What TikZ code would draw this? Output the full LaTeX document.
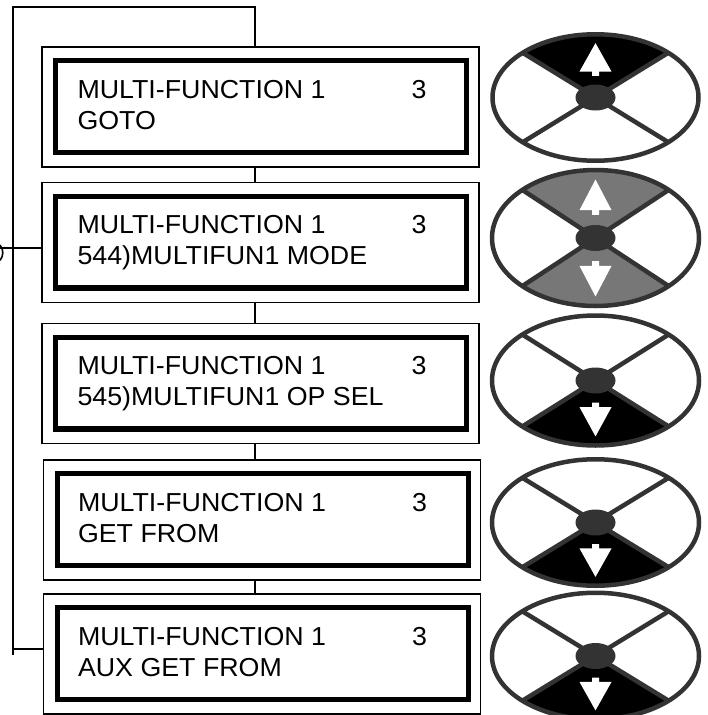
\documentclass[tikz,border=0pt]{standalone}
\usepackage{fontspec}
\setmainfont{Liberation Sans}[FakeStretch=1.03]
\usepackage{tikz}

\definecolor{keydark}{HTML}{333333}
\definecolor{keygray}{HTML}{777777}

\tikzset{
    panel/.style={draw, line width=1.3pt, minimum width=437pt, minimum height=120pt, inner sep=0pt},
    lcd/.style={draw, line width=5pt, minimum width=411pt, minimum height=92pt, inner sep=0pt},
    lcdtext/.style={anchor=base west, inner sep=0pt, font=\fontsize{26}{31}\selectfont},
    wire/.style={line width=1.3pt},
    keyline/.style={draw=keydark, line width=4.5pt}
}

% two display lines, the first one is the same everywhere
\newcommand{\lcdlines}[1]{\vtop{\hbox{\makebox[334pt][l]{MULTI-FUNCTION 1}3}\hbox{#1}}}

% keypad: center, x radius, y radius, top fill, bottom fill
\newcommand{\keypad}[5]{%
  \begin{scope}[shift={#1}]
    \begin{scope}[xscale=#2/#3]
      \fill[#4] (0,0) -- (45:#3) arc[start angle=45, end angle=135, radius=#3] -- cycle;
      \fill[#5] (0,0) -- (-45:#3) arc[start angle=-45, end angle=-135, radius=#3] -- cycle;
      \draw[keyline] (45:#3) -- (225:#3) (135:#3) -- (-45:#3);
      \draw[keyline] (0,0) circle[radius=#3];
    \end{scope}
    \fill[keydark] (0,0) ellipse[x radius=20, y radius=13];
  \end{scope}}
\newcommand{\keyup}[2]{%
  \fill[white, shift={#1}] (0,0.86*#2) -- (16,0.41*#2) -- (3.5,0.41*#2) -- (3.5,0.34*#2)
    -- (-3.5,0.34*#2) -- (-3.5,0.41*#2) -- (-16,0.41*#2) -- cycle;}
\newcommand{\keydown}[2]{%
  \fill[white, shift={#1}] (0,-0.86*#2) -- (16,-0.41*#2) -- (3.5,-0.41*#2) -- (3.5,-0.34*#2)
    -- (-3.5,-0.34*#2) -- (-3.5,-0.41*#2) -- (-16,-0.41*#2) -- cycle;}

\begin{document}
\begin{tikzpicture}[x=1pt, y=1pt]
\useasboundingbox (0,0) rectangle (708,-715);

% menu panels
\node[panel] (b1) at (260.5,-107) {};
\node[panel] (b2) at (260.5,-242.5) {};
\node[panel] (b3) at (260.5,-383.5) {};
\node[panel] (b4) at (262,-520) {};
\node[panel] (b5) at (262,-654) {};

\foreach \i in {1,...,5} {
  \node[lcd] (l\i) at ([xshift=0.5pt, yshift=0.5pt]b\i.center) {};
  \fill (l\i.south west) rectangle ([yshift=5.5pt]l\i.south east);
}

\node[lcdtext] (t1) at ([xshift=36pt, yshift=9pt]b1.west) {\lcdlines{GOTO}};
\node[lcdtext] (t2) at ([xshift=36pt, yshift=9pt]b2.west) {\lcdlines{544)MULTIFUN1 MODE}};
\node[lcdtext] (t3) at ([xshift=36pt, yshift=9pt]b3.west) {\lcdlines{545)MULTIFUN1 OP SEL}};
\node[lcdtext] (t4) at ([xshift=35pt, yshift=9pt]b4.west) {\lcdlines{GET FROM}};
\node[lcdtext] (t5) at ([xshift=35pt, yshift=9pt]b5.west) {\lcdlines{AUX GET FROM}};

% connectors
\coordinate (spine) at (255,0);
\coordinate (loopTop) at (255,-7);
\coordinate (loopCorner) at (13,-7);
\coordinate (loopEnd) at (13,-655);
\coordinate (tap2) at ([yshift=-5.5pt]b2.west);
\coordinate (tap5) at ([yshift=5pt]b5.west);

\draw[wire] (b1.north -| spine) -- (loopTop) -- (loopCorner) -- (loopEnd);
\foreach \a/\b in {b1/b2, b2/b3, b3/b4, b4/b5}
  \draw[wire] (\a.south -| spine) -- (\b.north -| spine);
\draw[wire] (tap2) -- (tap2 -| loopCorner) -- ++(-13,0);
\draw[wire] (tap5) -- (tap5 -| loopCorner);
\draw[line width=1.6pt] (0,-245) arc[start angle=40, end angle=-40, radius=12];

% keypads
\keypad{(595.5,-97.5)}{103}{63.25}{black}{white}
\keyup{(595.5,-97.5)}{63.25}
\keypad{(595.5,-238)}{103.5}{68}{keygray}{keygray}
\keyup{(595.5,-238)}{68}
\keydown{(595.5,-238)}{68}
\keypad{(595.5,-380.5)}{103.5}{65}{white}{black}
\keydown{(595.5,-380.5)}{65}
\keypad{(595.5,-522.5)}{103.5}{63.25}{white}{black}
\keydown{(595.5,-522.5)}{63.25}
\keypad{(595.5,-656)}{103.5}{63.25}{white}{black}
\keydown{(595.5,-656)}{63.25}
\end{tikzpicture}
\end{document}
